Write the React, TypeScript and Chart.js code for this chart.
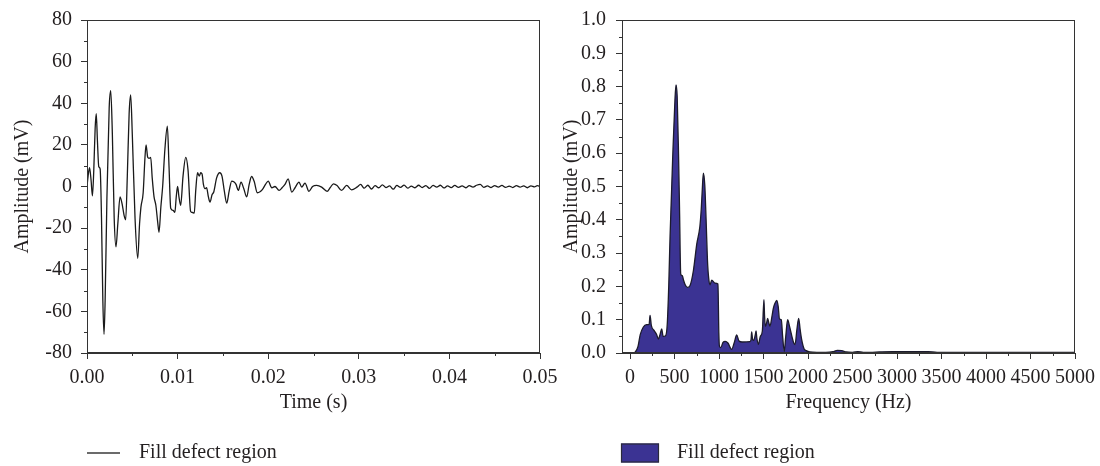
import React, { useEffect, useRef } from "react";
import { Chart, registerables } from "chart.js";

Chart.register(...registerables);

const FONT_FAMILY = "'Liberation Serif', 'DejaVu Serif', serif";
const TEXT_COLOR = "#231f20";
const AXIS_COLOR = "#333333";
const LINE_COLOR = "#1a1a1a";
const FILL_COLOR = "#3b3393";
const FILL_EDGE = "#1c1b2c";
const LEGEND_LABEL = "Fill defect region";

// ---------- Left chart: time-domain waveform ----------
const timeMs = [
  0, 0.12, 0.28, 0.45, 0.6, 0.75, 0.9, 1.02, 1.15, 1.3, 1.45, 1.6, 1.75, 1.88, 2.0, 2.2, 2.45, 2.62, 2.8, 3.0,
  3.2, 3.4, 3.65, 3.9, 4.1, 4.27, 4.45, 4.65, 4.82, 5.0, 5.3, 5.6, 5.8, 5.95, 6.2, 6.4, 6.52, 6.7, 6.85, 7.03,
  7.2, 7.4, 7.6, 7.8, 7.95, 8.15, 8.35, 8.6, 8.87, 9.05, 9.24, 9.5, 9.7, 9.85, 10.0, 10.15, 10.34, 10.6, 10.9, 11.15,
  11.44, 11.65, 11.84, 12.0, 12.2, 12.4, 12.55, 12.7, 12.85, 13.02, 13.2, 13.4, 13.58, 13.8, 14.0, 14.3, 14.65, 14.9, 15.15, 15.42,
  15.7, 15.97, 16.2, 16.45, 16.7, 17.0, 17.3, 17.63, 17.9, 18.17, 18.45, 18.8, 19.1, 19.35, 19.7, 20.0, 20.4, 20.75, 21.2, 21.55,
  21.85, 22.2, 22.6, 22.96, 23.4, 23.7, 24.06, 24.5, 24.9, 25.35, 25.9, 26.5, 26.85, 27.2, 27.6, 28.1, 28.66, 29.2, 29.8, 30.2,
  30.6, 31.0, 31.4, 31.8, 32.2, 32.6, 33.0, 33.4, 33.8, 34.2, 34.6, 35.0, 35.4, 35.8, 36.2, 36.6, 37.0, 37.4, 37.8, 38.2,
  38.6, 39.0, 39.4, 39.8, 40.2, 40.6, 41.0, 41.4, 41.8, 42.2, 42.6, 43.0, 43.4, 43.8, 44.2, 44.6, 45.0, 45.4, 45.8, 46.2,
  46.6, 47.0, 47.4, 47.8, 48.2, 48.6, 49.0, 49.4, 49.7, 50.0,
];
const amplitudeMv = [
  0, 5, 9, 3, -4.5, 8, 28, 35, 22, 9.5, 8.5, -15, -55, -71, -55, -5, 38, 46, 25, -15,
  -29, -18, -5, -9, -14, -16, 5, 35, 44, 25, -15, -34.5, -18, -10, -3, 14, 20, 14, 13.5, 14,
  4, -5, -9, -17, -22, -10, 0, 18, 29, 10, -10.5, -11.5, -12.4, -5, 0, -5, -9, 5, 14, 8,
  -12, -12.5, -12.8, -2, 6.6, 5, 6.6, 6, 1, -1, -0.6, -5, -7.5, -4, -2.5, 4, 6.6, 5, -2, -8,
  -2, 2.6, 2.3, 1, -1.9, 2.1, -1, -5, 1, 4.8, 2.5, -3, -2.5, -1.5, 1, 2.6, -0.6, 0, -1.9, -0.5,
  1, 3.7, -2.7, -0.6, 2.1, -0.3, 1.6, -2.3, 0, 0.5, -0.3, -2.3, -0.5, 1.3, 0.5, -1.9, 0.5, -1.6, -0.3, 1.0,
  -0.8, 0.6, -1.2, 0.4, -0.6, 0.8, -0.5, 0.3, -1.3, 0.5, -0.4, 0.7, -0.8, 0.2, -0.6, 0.6, -0.5, 0.4, -0.9, 0.5,
  -0.3, 0.6, -0.7, 0.3, -0.5, 0.5, -0.4, 0.3, -0.6, 0.4, -0.3, 0.6, 1.0, -0.4, 0.3, -0.5, 0.4, -0.3, 0.5, -0.4,
  0.2, -0.5, 0.4, -0.3, 0.3, -0.6, 0.3, -0.2, 0.4, 0.1,
];
const timeMajorTicks = [0, 0.01, 0.02, 0.03, 0.04, 0.05];
const timeMinorTicks = [0.005, 0.015, 0.025, 0.035, 0.045];
const ampMajorTicks = [-80, -60, -40, -20, 0, 20, 40, 60, 80];
const ampMinorTicks = [-70, -50, -30, -10, 10, 30, 50, 70];

// ---------- Right chart: amplitude spectrum ----------
const freqHz = [
  0, 40, 60, 90, 115, 150, 185, 215, 225, 240, 270, 300, 318, 337, 356, 372, 400, 418, 435, 450,
  480, 505, 517, 530, 545, 556, 570, 588, 600, 620, 645, 675, 712, 750, 785, 800, 812, 824, 840, 855,
  870, 884, 900, 918, 955, 988, 998, 1005, 1020, 1045, 1070, 1100, 1142, 1170, 1199, 1225, 1260, 1348, 1360, 1367,
  1378, 1390, 1408, 1416, 1425, 1442, 1465, 1487, 1505, 1512, 1521, 1535, 1546, 1560, 1573, 1595, 1611, 1630, 1650, 1665,
  1680, 1700, 1715, 1733, 1750, 1771, 1790, 1810, 1840, 1854, 1875, 1895, 1912, 1929, 1955, 1980, 2020, 2100, 2200, 2280,
  2330, 2380, 2430, 2500, 2560, 2620, 2700, 2800, 2950, 3100, 3250, 3350, 3450, 3600, 3800, 4000, 4200, 4400, 4600, 4800,
  5000,
];
const spectrumMv = [
  0, 0, 0.003, 0.02, 0.055, 0.078, 0.085, 0.086, 0.113, 0.082, 0.068, 0.055, 0.042, 0.055, 0.072, 0.05, 0.052, 0.085, 0.2, 0.35,
  0.59, 0.76, 0.805, 0.77, 0.6, 0.44, 0.237, 0.232, 0.22, 0.205, 0.197, 0.203, 0.247, 0.327, 0.38, 0.43, 0.49, 0.54, 0.505, 0.4,
  0.28, 0.225, 0.205, 0.219, 0.21, 0.207, 0.06, 0.02, 0.016, 0.032, 0.035, 0.03, 0.011, 0.03, 0.054, 0.036, 0.033, 0.034, 0.04, 0.063,
  0.04, 0.038, 0.055, 0.066, 0.045, 0.026, 0.05, 0.066, 0.16, 0.11, 0.08, 0.09, 0.104, 0.09, 0.081, 0.11, 0.135, 0.15, 0.158, 0.14,
  0.102, 0.1, 0.05, 0.005, 0.05, 0.1, 0.083, 0.06, 0.03, 0.025, 0.07, 0.104, 0.07, 0.04, 0.013, 0.007, 0.003, 0.002, 0.002, 0.004,
  0.008, 0.007, 0.003, 0.002, 0.004, 0.002, 0.002, 0.003, 0.004, 0.004, 0.004, 0.004, 0.002, 0.002, 0.002, 0.002, 0.002, 0.002, 0.002, 0.002,
  0.002,
];
const freqMajorTicks = [0, 500, 1000, 1500, 2000, 2500, 3000, 3500, 4000, 4500, 5000];
const freqMinorTicks = [250, 750, 1250, 1750, 2250, 2750, 3250, 3750, 4250, 4750];
const specMajorTicks = [0, 0.1, 0.2, 0.3, 0.4, 0.5, 0.6, 0.7, 0.8, 0.9, 1.0];
const specMinorTicks = [0.05, 0.15, 0.25, 0.35, 0.45, 0.55, 0.65, 0.75, 0.85, 0.95];

const FONT_SIZE = 20;
const font = { family: FONT_FAMILY, size: FONT_SIZE };

type DecorOpts = {
  xMinor: number[];
  yMinor: number[];
  legendKind: "line" | "box";
  legendX0: number;
  legendX1: number;
  legendY: number;
  legendTextX: number;
};

function makeDecorPlugin(o: DecorOpts) {
  return {
    id: "decor",
    afterDraw(chart: any) {
      const { ctx, chartArea } = chart;
      const { left, top, right, bottom } = chartArea;
      const xs = chart.scales.x;
      const ys = chart.scales.y;
      ctx.save();
      ctx.strokeStyle = AXIS_COLOR;
      ctx.lineWidth = 1;
      const L = Math.round(left) + 0.5;
      const T = Math.round(top) + 0.5;
      const R = Math.round(right) - 0.5;
      const B = Math.round(bottom) - 0.5;
      ctx.strokeRect(L, T, R - L, B - T);
      ctx.beginPath();
      o.xMinor.forEach((v) => {
        const px = Math.round(xs.getPixelForValue(v)) + 0.5;
        ctx.moveTo(px, B);
        ctx.lineTo(px, B + 3.5);
      });
      o.yMinor.forEach((v) => {
        const py = Math.round(ys.getPixelForValue(v)) + 0.5;
        ctx.moveTo(L, py);
        ctx.lineTo(L - 3.5, py);
      });
      ctx.stroke();
      // legend
      if (o.legendKind === "line") {
        ctx.strokeStyle = "#3a3a3a";
        ctx.lineWidth = 1.6;
        ctx.beginPath();
        ctx.moveTo(o.legendX0, o.legendY);
        ctx.lineTo(o.legendX1, o.legendY);
        ctx.stroke();
      } else {
        ctx.fillStyle = FILL_COLOR;
        ctx.fillRect(o.legendX0, o.legendY - 9.5, o.legendX1 - o.legendX0, 19);
        ctx.strokeStyle = "#2a2a3a";
        ctx.lineWidth = 1.2;
        ctx.strokeRect(o.legendX0 + 0.5, o.legendY - 9, o.legendX1 - o.legendX0 - 1, 18);
      }
      ctx.fillStyle = TEXT_COLOR;
      ctx.font = `${FONT_SIZE}px ${FONT_FAMILY}`;
      ctx.textAlign = "left";
      ctx.textBaseline = "middle";
      ctx.fillText(LEGEND_LABEL, o.legendTextX, o.legendY);
      ctx.restore();
    },
  };
}

function axisBase() {
  return {
    type: "linear" as const,
    grid: {
      display: true,
      drawOnChartArea: false,
      drawTicks: true,
      tickLength: 6,
      tickColor: AXIS_COLOR,
      tickWidth: 1,
      color: AXIS_COLOR,
    },
    border: { display: true, color: AXIS_COLOR, width: 1 },
  };
}

function waveConfig(): any {
  const data = timeMs.map((t, i) => ({ x: t / 1000, y: amplitudeMv[i] }));
  return {
    type: "line",
    data: {
      datasets: [
        {
          label: LEGEND_LABEL,
          data,
          borderColor: LINE_COLOR,
          borderWidth: 1.3,
          pointRadius: 0,
          fill: false,
          cubicInterpolationMode: "monotone",
        },
      ],
    },
    options: {
      animation: false,
      responsive: false,
      devicePixelRatio: 1,
      layout: { padding: { left: 0, right: 20, top: 20, bottom: 50 } },
      plugins: { legend: { display: false }, tooltip: { enabled: false } },
      scales: {
        x: {
          ...axisBase(),
          min: 0,
          max: 0.05,
          afterBuildTicks: (s: any) => {
            s.ticks = timeMajorTicks.map((value) => ({ value }));
          },
          afterFit: (s: any) => {
            s.height = 63;
            s.paddingLeft = 0;
            s.paddingRight = 0;
          },
          ticks: {
            font,
            color: TEXT_COLOR,
            padding: 7,
            maxRotation: 0,
            autoSkip: false,
            callback: (v: any) => Number(v).toFixed(2),
          },
          title: {
            display: true,
            text: "Time (s)",
            font,
            color: TEXT_COLOR,
            padding: { top: 0, bottom: 1 },
          },
        },
        y: {
          ...axisBase(),
          min: -80,
          max: 80,
          afterBuildTicks: (s: any) => {
            s.ticks = ampMajorTicks.map((value) => ({ value }));
          },
          afterFit: (s: any) => {
            s.width = 87;
            s.paddingTop = 0;
            s.paddingBottom = 0;
          },
          ticks: {
            font,
            color: TEXT_COLOR,
            padding: 9,
            autoSkip: false,
            callback: (v: any) => String(v),
          },
          title: {
            display: true,
            text: "Amplitude (mV)",
            font,
            color: TEXT_COLOR,
            padding: { top: 11, bottom: 0 },
          },
        },
      },
    },
    plugins: [
      makeDecorPlugin({
        xMinor: timeMinorTicks,
        yMinor: ampMinorTicks,
        legendKind: "line",
        legendX0: 87,
        legendX1: 120,
        legendY: 453,
        legendTextX: 139,
      }),
    ],
  };
}

function spectrumConfig(): any {
  const data = freqHz.map((f, i) => ({ x: f, y: spectrumMv[i] }));
  return {
    type: "line",
    data: {
      datasets: [
        {
          label: LEGEND_LABEL,
          data,
          borderColor: FILL_EDGE,
          backgroundColor: FILL_COLOR,
          borderWidth: 1.3,
          pointRadius: 0,
          fill: "origin",
          cubicInterpolationMode: "monotone",
        },
      ],
    },
    options: {
      animation: false,
      responsive: false,
      devicePixelRatio: 1,
      layout: { padding: { left: 0, right: 25, top: 20, bottom: 50 } },
      plugins: { legend: { display: false }, tooltip: { enabled: false } },
      scales: {
        x: {
          ...axisBase(),
          min: -90,
          max: 5000,
          afterBuildTicks: (s: any) => {
            s.ticks = freqMajorTicks.map((value) => ({ value }));
          },
          afterFit: (s: any) => {
            s.height = 63;
            s.paddingLeft = 0;
            s.paddingRight = 0;
          },
          ticks: {
            font,
            color: TEXT_COLOR,
            padding: 7,
            maxRotation: 0,
            autoSkip: false,
            callback: (v: any) => String(v),
          },
          title: {
            display: true,
            text: "Frequency (Hz)",
            font,
            color: TEXT_COLOR,
            padding: { top: 0, bottom: 1 },
          },
        },
        y: {
          ...axisBase(),
          min: 0,
          max: 1,
          afterBuildTicks: (s: any) => {
            s.ticks = specMajorTicks.map((value) => ({ value }));
          },
          afterFit: (s: any) => {
            s.width = 62;
            s.paddingTop = 0;
            s.paddingBottom = 0;
          },
          ticks: {
            font,
            color: TEXT_COLOR,
            padding: 10,
            autoSkip: false,
            callback: (v: any) => Number(v).toFixed(1),
          },
          title: {
            display: true,
            text: "Amplitude (mV)",
            font,
            color: TEXT_COLOR,
            padding: { top: 0, bottom: 0 },
          },
        },
      },
    },
    plugins: [
      makeDecorPlugin({
        xMinor: freqMinorTicks,
        yMinor: specMinorTicks,
        legendKind: "box",
        legendX0: 61,
        legendX1: 99,
        legendY: 453,
        legendTextX: 117,
      }),
    ],
  };
}

export default function App() {
  const leftRef = useRef<HTMLCanvasElement>(null);
  const rightRef = useRef<HTMLCanvasElement>(null);

  useEffect(() => {
    const c1 = new Chart(leftRef.current as HTMLCanvasElement, waveConfig());
    const c2 = new Chart(rightRef.current as HTMLCanvasElement, spectrumConfig());
    return () => {
      c1.destroy();
      c2.destroy();
    };
  }, []);

  return (
    <div style={{ position: "absolute", left: 0, top: 0, width: 1100, height: 466, background: "#ffffff" }}>
      <canvas
        ref={leftRef}
        width={560}
        height={466}
        style={{ position: "absolute", left: 0, top: 0, width: 560, height: 466 }}
      />
      <canvas
        ref={rightRef}
        width={540}
        height={466}
        style={{ position: "absolute", left: 560, top: 0, width: 540, height: 466 }}
      />
    </div>
  );
}
